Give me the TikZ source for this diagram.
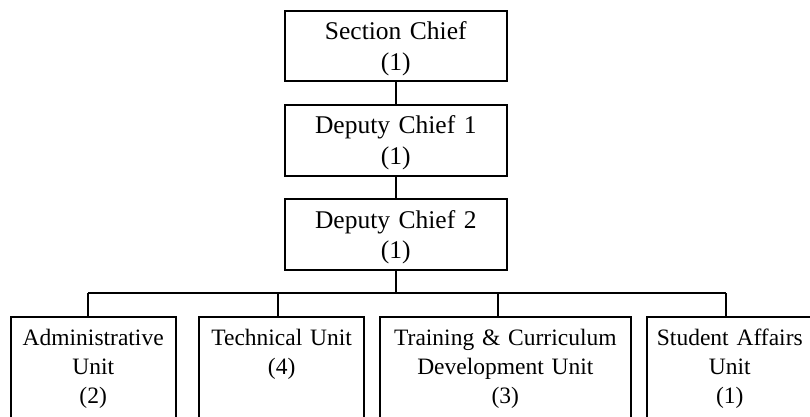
\documentclass[tikz,border=0pt]{standalone}
\usepackage{fontspec}
\setmainfont{Liberation Serif}
\begin{document}
\begin{tikzpicture}[x=1pt,y=-1pt,
  box/.style={draw,line width=1.8pt,rectangle,inner sep=0pt,outer sep=0pt},
  lbl/.style={anchor=base,align=center,inner sep=0pt,font=\fontsize{23.5}{29}\selectfont},
  toplbl/.style={lbl,font=\fontsize{25.5}{30.5}\selectfont},
  conn/.style={line width=1.8pt}]
\useasboundingbox (0,0) rectangle (810,416);
\clip (0,0) rectangle (810,416);
% upper chain
\node[box,minimum width=221.7pt,minimum height=70.3pt] (S) at (395.8,45.85) {};
\node[box,minimum width=221.7pt,minimum height=70.7pt] (D1) at (395.8,140.35) {};
\node[box,minimum width=221.7pt,minimum height=70.7pt] (D2) at (395.8,234.65) {};
\node[toplbl,text width=220pt] (tS) at ([yshift=-28.8pt]S.north) {Section Chief\\(1)};
\node[toplbl,text width=220pt] (tD1) at ([yshift=-28.8pt]D1.north) {Deputy Chief 1\\(1)};
\node[toplbl,text width=220pt] (tD2) at ([yshift=-28.8pt]D2.north) {Deputy Chief 2\\(1)};
% lower boxes (run past the bottom edge)
\node[box,minimum width=165pt,minimum height=140pt] (A) at (93.2,387.3) {};
\node[box,minimum width=165.3pt,minimum height=140pt] (B) at (281.65,387.3) {};
\node[box,minimum width=250.7pt,minimum height=140pt] (C) at (505.35,387.3) {};
\node[box,minimum width=165pt,minimum height=140pt] (D) at (729.8,387.3) {};
\node[lbl,text width=164pt] (tA) at ([yshift=-28.6pt]A.north) {Administrative\\Unit\\(2)};
\node[lbl,text width=164pt] (tB) at ([yshift=-28.6pt]B.north) {Technical Unit\\(4)};
\node[lbl,text width=250pt] (tC) at ([yshift=-28.6pt]C.north) {Training \& Curriculum\\Development Unit\\(3)};
\node[lbl,text width=164pt] (tD) at ([yshift=-28.6pt]D.north) {Student Affairs\\Unit\\(1)};
% connectors
\draw[conn] (S.south) -- (D1.north);
\draw[conn] (D1.south) -- (D2.north);
\coordinate (bus) at (395.8,293.3);
\coordinate (dA) at (88.3,293.3);
\coordinate (dB) at (277.7,293.3);
\coordinate (dC) at (498,293.3);
\coordinate (dD) at (726,293.3);
\draw[conn] (D2.south) -- (bus);
\draw[conn] (dA) -- (dD);
\draw[conn] (dA) -- (dA |- A.north);
\draw[conn] (dB) -- (dB |- B.north);
\draw[conn] (dC) -- (dC |- C.north);
\draw[conn] (dD) -- (dD |- D.north);
\end{tikzpicture}
\end{document}
